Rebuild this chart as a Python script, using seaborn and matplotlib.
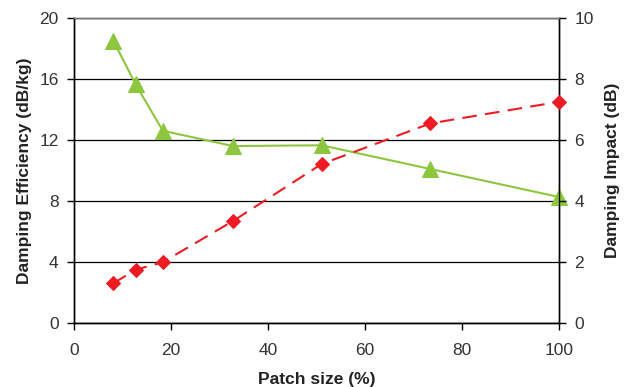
import matplotlib
matplotlib.use("Agg")
import matplotlib.pyplot as plt
import seaborn as sns
import pandas as pd

patch_size = [8.1, 12.7, 18.3, 32.8, 51.0, 73.4, 100.0]
damping_efficiency = [18.5, 15.64, 12.6, 11.6, 11.65, 10.1, 8.26]
damping_impact = [1.31, 1.75, 2.0, 3.35, 5.21, 6.54, 7.25]

x_ticks = [0, 20, 40, 60, 80, 100]
left_ticks = [0, 4, 8, 12, 16, 20]
right_ticks = [0, 2, 4, 6, 8, 10]

sns.set_theme(style="white")
plt.rcParams['font.family'] = ['Liberation Sans', 'DejaVu Sans']

df = pd.DataFrame({"x": patch_size, "eff": damping_efficiency, "imp": damping_impact})

fig = plt.figure(figsize=(6.27, 3.87), dpi=100)
ax = fig.add_axes([74/627, 1-323.3/387, (559.3-74)/627, (323.3-17.7)/387])
ax2 = ax.twinx()

green = "#8DC63F"
red = "#ED1C24"

sns.lineplot(data=df, x="x", y="eff", ax=ax, color=green, lw=1.5,
             marker="^", markersize=11, markeredgecolor=green, zorder=3, clip_on=False)
sns.lineplot(data=df, x="x", y="imp", ax=ax2, color=red, lw=1.5,
             marker="D", markersize=7.5, markeredgecolor=red, zorder=3, clip_on=False)
ax2.lines[0].set_dashes([7, 4])

ax.set_xlim(0, 100)
ax.set_ylim(0, 20)
ax2.set_ylim(0, 10)
ax.set_xticks(x_ticks)
ax.set_yticks(left_ticks)
ax2.set_yticks(right_ticks)

ax.yaxis.grid(True, color="black", lw=0.9)
ax.set_axisbelow(True)

for a in (ax, ax2):
    for s in a.spines.values():
        s.set_color("black")
        s.set_linewidth(1.0)
    a.spines["top"].set_color("#777777")
    a.tick_params(axis="both", which="major", length=5, width=1, color="black",
                  labelsize=12.5, labelcolor="#333333", direction="out", pad=6)
ax.tick_params(left=True, bottom=True)
ax.tick_params(axis="x", pad=9)
ax2.tick_params(right=True)

ax.set_xlabel("Patch size (%)", fontsize=12.5, fontweight="bold", color="#222222", labelpad=10)
ax.set_ylabel("Damping Efficiency (dB/kg)", fontsize=12.5, fontweight="bold", color="#222222", labelpad=5)
ax2.set_ylabel("Damping Impact (dB)", fontsize=12.5, fontweight="bold", color="#222222", labelpad=8)

fig.savefig("out.png", dpi=100)
